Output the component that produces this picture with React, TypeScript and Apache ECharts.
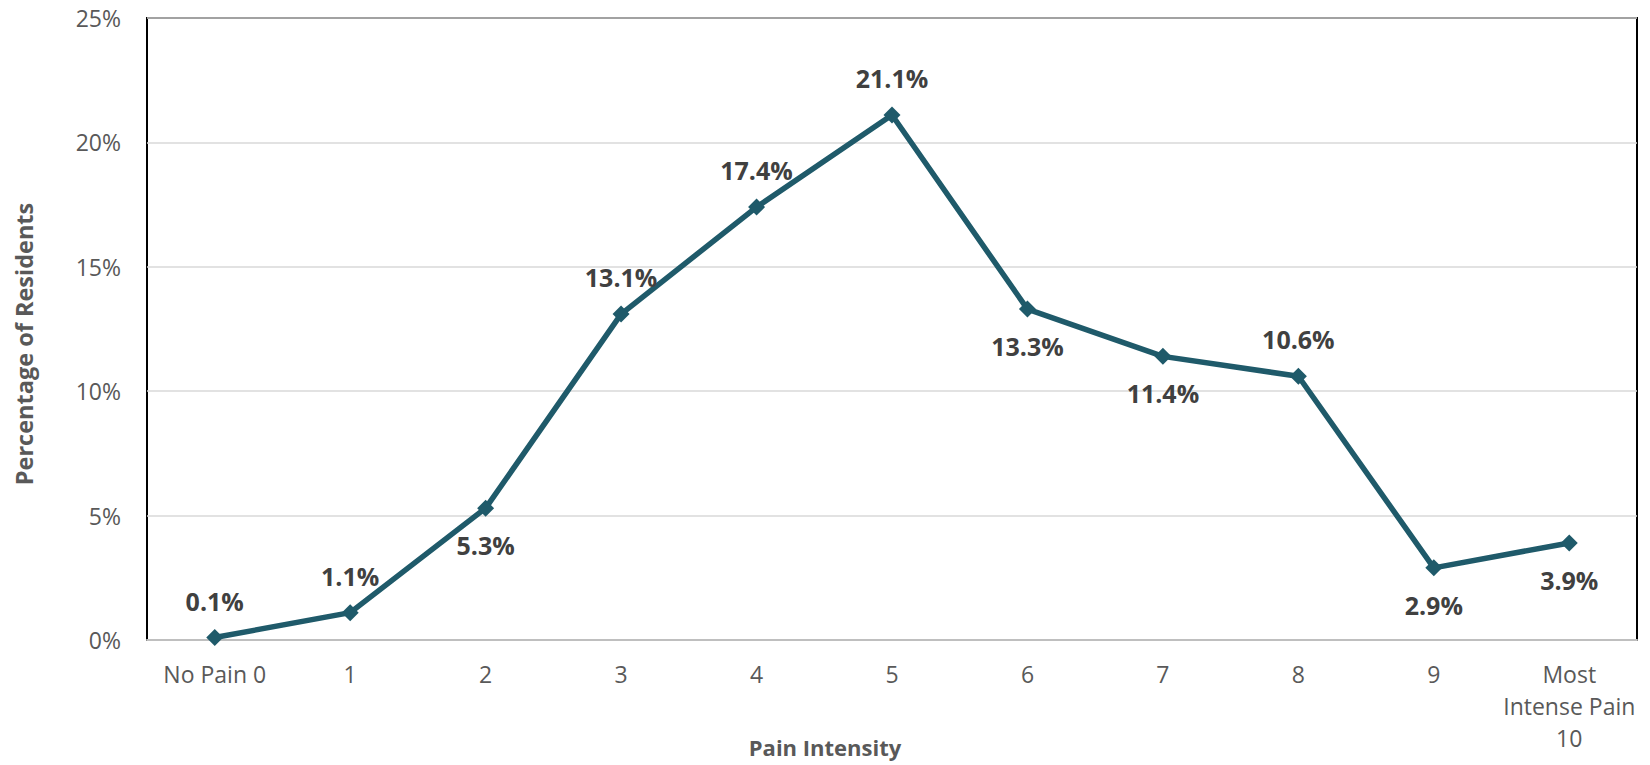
import React, { useEffect, useRef } from "react";
import * as echarts from "echarts";

// Pain intensity categories (x axis)
const categories: string[] = [
  "No Pain 0",
  "1",
  "2",
  "3",
  "4",
  "5",
  "6",
  "7",
  "8",
  "9",
  "Most\nIntense Pain\n10",
];

// Share of residents at each pain level, in percent
const residentShare: number[] = [0.1, 1.1, 5.3, 13.1, 17.4, 21.1, 13.3, 11.4, 10.6, 2.9, 3.9];

// Which side of the point each value label sits on
const labelSide: ("top" | "bottom")[] = [
  "top", "top", "bottom", "top", "top", "top", "bottom", "bottom", "top", "bottom", "bottom",
];

const FONT = "'Open Sans', sans-serif";
const LINE_COLOR = "#1F5A6A";
const TEXT_COLOR = "#595959";

export default function App() {
  const ref = useRef<HTMLDivElement>(null);

  useEffect(() => {
    if (!ref.current) return;
    const chart = echarts.init(ref.current, null, { renderer: "svg" });

    const seriesData = residentShare.map((v, i) => ({
      value: v,
      label: {
        position: labelSide[i],
        distance: 16,
      },
    }));

    chart.setOption({
      animation: false,
      backgroundColor: "#ffffff",
      textStyle: { fontFamily: FONT },
      grid: {
        left: 147,
        right: 13,
        top: 18,
        bottom: 125,
        show: true,
        borderColor: "#000000",
        borderWidth: 2,
        backgroundColor: "transparent",
      },
      xAxis: {
        type: "category",
        data: categories,
        boundaryGap: true,
        axisLine: { show: true, lineStyle: { color: "#BFBFBF", width: 2 } },
        axisTick: { show: false },
        axisLabel: {
          color: TEXT_COLOR,
          fontFamily: FONT,
          fontSize: 23,
          lineHeight: 32,
          margin: 18,
          interval: 0,
          align: "center",
        },
        splitLine: { show: false },
      },
      yAxis: {
        type: "value",
        min: 0,
        max: 25,
        interval: 5,
        axisLine: { show: false },
        axisTick: { show: false },
        axisLabel: {
          color: TEXT_COLOR,
          fontFamily: FONT,
          fontSize: 23,
          margin: 26,
          formatter: (v: number) => `${v}%`,
        },
        splitLine: { show: true, lineStyle: { color: "#D9D9D9", width: 1.5 } },
      },
      series: [
        {
          type: "line",
          data: seriesData,
          symbol: "diamond",
          symbolSize: 17,
          lineStyle: { color: LINE_COLOR, width: 5.5 },
          itemStyle: { color: LINE_COLOR },
          label: {
            show: true,
            color: "#404040",
            fontFamily: FONT,
            fontWeight: "bold",
            fontSize: 25,
            formatter: (p: any) => `${Number(p.value).toFixed(1)}%`,
          },
          z: 5,
        },
      ],
      graphic: [
        {
          type: "text",
          x: 825,
          y: 747,
          style: {
            text: "Pain Intensity",
            fill: TEXT_COLOR,
            font: `bold 22px ${FONT}`,
            textAlign: "center",
            textVerticalAlign: "middle",
          },
        },
        {
          type: "text",
          x: 24,
          y: 344,
          rotation: Math.PI / 2,
          style: {
            text: "Percentage of Residents",
            fill: TEXT_COLOR,
            font: `bold 23.5px ${FONT}`,
            textAlign: "center",
            textVerticalAlign: "middle",
          },
        },
      ],
    });

    return () => chart.dispose();
  }, []);

  return (
    <div
      ref={ref}
      style={{ position: "absolute", left: 0, top: 0, width: 1650, height: 765 }}
    />
  );
}
